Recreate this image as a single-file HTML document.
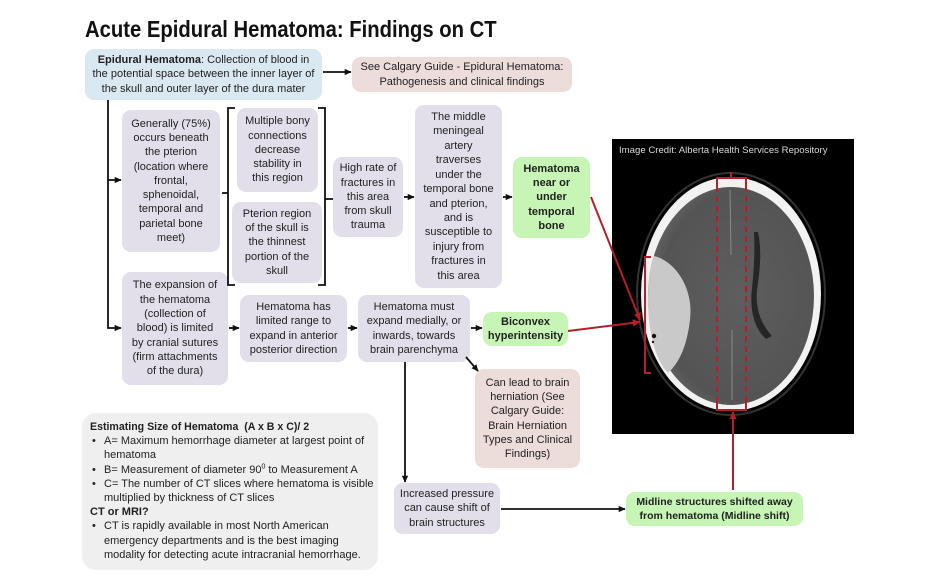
<!DOCTYPE html>
<html>
<head>
<meta charset="utf-8">
<style>
  html,body{margin:0;padding:0;background:#fff;}
  body{width:940px;height:588px;position:relative;overflow:hidden;font-family:"Liberation Sans",Arial,sans-serif;color:#222;}
  .title{position:absolute;left:85px;top:14px;font-size:23px;font-weight:bold;color:#111;white-space:nowrap;transform:scaleX(0.88);transform-origin:0 0;line-height:30px;}
  .b{position:absolute;display:flex;align-items:center;justify-content:center;text-align:center;border-radius:9px;font-size:11px;line-height:14.3px;white-space:nowrap;box-sizing:border-box;}
  .lav{background:#e2dfea;}
  .blue{background:#dae8f1;}
  .pink{background:#ecdcda;}
  .green{background:#c6f5b5;font-weight:bold;}
  .grey{position:absolute;left:82px;top:413px;width:296px;height:157px;background:#efefef;border-radius:14px;font-size:11px;line-height:14.2px;padding:7px 0 0 8px;box-sizing:border-box;white-space:nowrap;}
  .grey .h{font-weight:bold;font-size:10.6px;}
  .grey .li{position:relative;padding-left:14px;}
  .grey .li:before{content:"•";position:absolute;left:2px;top:0;}
  .grey .cont{padding-left:14px;}
  svg{position:absolute;left:0;top:0;}
</style>
</head>
<body>
<div class="title">Acute Epidural Hematoma: Findings on CT</div>

<div class="b blue" style="left:85px;top:49px;width:237px;height:51px;"><div><b>Epidural Hematoma</b>: Collection of blood in<br>the potential space between the inner layer of<br>the skull and outer layer of the dura mater</div></div>

<div class="b pink" style="left:352px;top:57px;width:220px;height:35px;"><div>See Calgary Guide - Epidural Hematoma:<br>Pathogenesis and clinical findings</div></div>

<div class="b lav" style="left:122px;top:110px;width:98px;height:142px;"><div>Generally (75%)<br>occurs beneath<br>the pterion<br>(location where<br>frontal,<br>sphenoidal,<br>temporal and<br>parietal bone<br>meet)</div></div>

<div class="b lav" style="left:237px;top:108px;width:81px;height:84px;"><div>Multiple bony<br>connections<br>decrease<br>stability in<br>this region</div></div>

<div class="b lav" style="left:232px;top:202px;width:90px;height:81px;"><div>Pterion region<br>of the skull is<br>the thinnest<br>portion of the<br>skull</div></div>

<div class="b lav" style="left:333px;top:157px;width:70px;height:80px;"><div>High rate of<br>fractures in<br>this area<br>from skull<br>trauma</div></div>

<div class="b lav" style="left:415px;top:105px;width:87px;height:183px;line-height:14.4px;"><div>The middle<br>meningeal<br>artery<br>traverses<br>under the<br>temporal bone<br>and pterion,<br>and is<br>susceptible to<br>injury from<br>fractures in<br>this area</div></div>

<div class="b green" style="left:513px;top:157px;width:77px;height:81px;"><div>Hematoma<br>near or<br>under<br>temporal<br>bone</div></div>

<div class="b lav" style="left:122px;top:272px;width:106px;height:113px;"><div>The expansion of<br>the hematoma<br>(collection of<br>blood) is limited<br>by cranial sutures<br>(firm attachments<br>of the dura)</div></div>

<div class="b lav" style="left:240px;top:295px;width:107px;height:67px;"><div>Hematoma has<br>limited range to<br>expand in anterior<br>posterior direction</div></div>

<div class="b lav" style="left:358px;top:295px;width:112px;height:67px;"><div>Hematoma must<br>expand medially, or<br>inwards, towards<br>brain parenchyma</div></div>

<div class="b green" style="left:483px;top:312px;width:85px;height:34px;"><div>Biconvex<br>hyperintensity</div></div>

<div class="b pink" style="left:475px;top:369px;width:105px;height:99px;"><div>Can lead to brain<br>herniation (See<br>Calgary Guide:<br>Brain Herniation<br>Types and Clinical<br>Findings)</div></div>

<div class="b lav" style="left:394px;top:483px;width:106px;height:51px;"><div>Increased pressure<br>can cause shift of<br>brain structures</div></div>

<div class="b green" style="left:626px;top:492px;width:177px;height:34px;font-size:10.5px;"><div>Midline structures shifted away<br>from hematoma (Midline shift)</div></div>

<div class="grey">
  <div class="h">Estimating Size of Hematoma&nbsp; (A x B x C)/ 2</div>
  <div class="li">A= Maximum hemorrhage diameter at largest point of</div>
  <div class="cont">hematoma</div>
  <div class="li">B= Measurement of diameter 90<sup style="font-size:7px;line-height:0;">0</sup> to Measurement A</div>
  <div class="li">C= The number of CT slices where hematoma is visible</div>
  <div class="cont">multiplied by thickness of CT slices</div>
  <div class="h" style="font-size:11px;">CT or MRI?</div>
  <div class="li">CT is rapidly available in most North American</div>
  <div class="cont">emergency departments and is the best imaging</div>
  <div class="cont">modality for detecting acute intracranial hemorrhage.</div>
</div>

<svg width="940" height="588" viewBox="0 0 940 588">
  <defs>
    <marker id="ab" viewBox="0 0 10 10" refX="9" refY="5" markerWidth="7" markerHeight="7" orient="auto" markerUnits="userSpaceOnUse">
      <path d="M0,0.5 L10,5 L0,9.5 z" fill="#111"/>
    </marker>
    <marker id="ar" viewBox="0 0 10 10" refX="9" refY="5" markerWidth="8" markerHeight="8" orient="auto" markerUnits="userSpaceOnUse">
      <path d="M0,0.5 L10,5 L0,9.5 z" fill="#b3202a"/>
    </marker>
    <radialGradient id="brain" cx="0.55" cy="0.5" r="0.6">
      <stop offset="0" stop-color="#5e5e5e"/>
      <stop offset="0.8" stop-color="#545454"/>
      <stop offset="1" stop-color="#6a6a6a"/>
    </radialGradient>
  </defs>

  <!-- CT image -->
  <rect x="612" y="139" width="242" height="295" fill="#000"/>
  <text x="619" y="153" font-family="Liberation Sans, Arial, sans-serif" font-size="9.6" fill="#d8d8d8">Image Credit: Alberta Health Services Repository</text>
  <ellipse cx="731" cy="294" rx="94" ry="121" fill="none" stroke="#333" stroke-width="2"/>
  <ellipse cx="731" cy="294" rx="90" ry="117" fill="#f2f2f2"/>
  <ellipse cx="731" cy="296" rx="83" ry="109" fill="url(#brain)"/>
  <path d="M654,256 C678,262 694,292 690,320 C687,345 680,362 668,373 C655,360 648,330 648,300 C648,280 650,265 654,256 Z" fill="#c9c9c9"/>
  <circle cx="654" cy="336" r="2.2" fill="#111"/>
  <circle cx="653" cy="342" r="1.2" fill="#222"/>
  <path d="M758,232 C762,250 760,270 757,290 C755,310 762,325 772,336 L766,339 C752,326 750,305 752,288 C754,270 755,250 754,232 Z" fill="#262626"/>
  <line x1="730" y1="190" x2="731" y2="255" stroke="#8a8a8a" stroke-width="1"/>
  <line x1="732" y1="330" x2="732" y2="400" stroke="#8a8a8a" stroke-width="1"/>

  <!-- black connectors -->
  <g stroke="#111" stroke-width="1.8" fill="none">
    <path d="M323,72 H351" marker-end="url(#ab)"/>
    <path d="M108,100 V328 H121" marker-end="url(#ab)"/>
    <path d="M108,180 H121" marker-end="url(#ab)"/>
    <path d="M235,108 H228 V285 H235"/>
    <path d="M222,193 H228"/>
    <path d="M318,108 H325 V285 H318"/>
    <path d="M325,199 H333"/>
    <path d="M404,197 H414" marker-end="url(#ab)"/>
    <path d="M503,197 H512" marker-end="url(#ab)"/>
    <path d="M229,328 H239" marker-end="url(#ab)"/>
    <path d="M348,328 H357" marker-end="url(#ab)"/>
    <path d="M471,328 H482" marker-end="url(#ab)"/>
    <path d="M466,357 L478,371" marker-end="url(#ab)"/>
    <path d="M405,362 V482" marker-end="url(#ab)"/>
    <path d="M501,509 H625" marker-end="url(#ab)"/>
  </g>

  <!-- red annotations -->
  <g stroke="#b3202a" stroke-width="2" fill="none">
    <path d="M591,197 L640,320" marker-end="url(#ar)"/>
    <path d="M568,331 L640,322" marker-end="url(#ar)"/>
    <path d="M651,257 H645 V373 H651"/>
    <path d="M717,186 V400 M746,186 V400" stroke-dasharray="6 4"/>
    <path d="M717,186 V178 H746 V186"/>
    <path d="M731,178 V172"/>
    <path d="M717,400 V410 H746 V400"/>
    <path d="M733,490 V412" marker-end="url(#ar)"/>
  </g>
</svg>
</body>
</html>
